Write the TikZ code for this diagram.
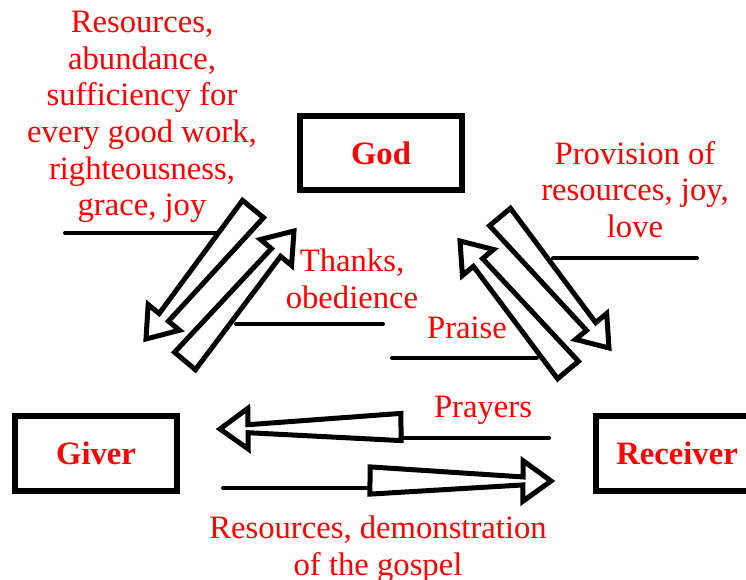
\documentclass[tikz,border=0pt]{standalone}
\usepackage{fontspec}
\setmainfont{Liberation Serif}
\usetikzlibrary{calc}
\newcommand{\hollowarrow}[3][3pt]{%
\coordinate (cou) at ($(#3)!21pt!(#2)$);
\draw[fleche] ($(#2)!10.2pt!90:(#3)$) -- ($(cou)!#1!90:(#3)$) -- ($(cou)!15.2pt!90:(#3)$) -- (#3)
  -- ($(cou)!15.2pt!-90:(#3)$) -- ($(cou)!#1!-90:(#3)$) -- ($(#2)!10.2pt!-90:(#3)$) -- cycle;}

\begin{document}
\begin{tikzpicture}[x=0.75pt, y=-0.75pt]
\tikzset{boite/.style={draw, line width=4.5pt, minimum width=121.5pt, minimum height=56pt, inner sep=0pt, text=red, font=\fontsize{24.5}{28}\selectfont\bfseries},
  etiquette/.style={text=red, align=center, inner sep=0pt, font=\fontsize{24.5}{27.5}\selectfont},
  fleche/.style={draw, fill=white, line width=3.75pt, line join=miter},
  trait/.style={draw, line width=3pt, line cap=round}}
\useasboundingbox (0,0) rectangle (746,579);
\clip (0,0) rectangle (746,579);
\node[boite] (God) at (381,153) {God};
\node[boite] (Giver) at (96,453.5) {Giver};
\node[boite] (Receiver) at (677,453.5) {Receiver};
\node[etiquette, anchor=north] (T1) at (142,11) {Resources,\\abundance,\\sufficiency for\\every good work,\\righteousness,\\grace, joy};
\node[etiquette, anchor=north] (T2) at (635,141) {Provision of\\resources, joy,\\love};
\node[etiquette, anchor=north] (T3) at (352,249) {Thanks,\\obedience};
\node[etiquette, anchor=base] (T4) at (467,338) {Praise};
\node[etiquette, anchor=base] (T5) at (483,417) {Prayers};
\node[etiquette, anchor=north] (T6) at (378,516) {Resources, demonstration\\of the gospel};
\coordinate (A1) at (253,209);
\coordinate (A2) at (146,339);
\coordinate (B1) at (185,361);
\coordinate (B2) at (294,231);
\coordinate (C1) at (500,217);
\coordinate (C2) at (609,348);
\coordinate (D1) at (568,370);
\coordinate (D2) at (460,241);
\coordinate (P1) at (401,427);
\coordinate (P2) at (220,429);
\coordinate (R1) at (370,480.5);
\coordinate (R2) at (551,481);
\coordinate (L1) at (65,233);
\coordinate (M1) at (217,233);
\coordinate (L2) at (383,324);
\coordinate (M2) at (236,324);
\coordinate (L3) at (392,358);
\coordinate (M3) at (537,358);
\coordinate (L4) at (697,258);
\coordinate (M4) at (553,258);
\coordinate (L5) at (549,438);
\coordinate (M5) at (401,438);
\coordinate (L6) at (223,488);
\coordinate (M6) at (370,488);
\draw[trait] (L1) -- (M1);
\draw[trait] (L2) -- (M2);
\draw[trait] (L3) -- (M3);
\draw[trait] (L4) -- (M4);
\draw[trait] (L5) -- (M5);
\draw[trait] (L6) -- (M6);
\hollowarrow[4.5pt]{A1}{A2}
\hollowarrow[4.5pt]{B1}{B2}
\hollowarrow[4.5pt]{C1}{C2}
\hollowarrow[4.5pt]{D1}{D2}
\hollowarrow{P1}{P2}
\hollowarrow{R1}{R2}
\end{tikzpicture}
\end{document}
